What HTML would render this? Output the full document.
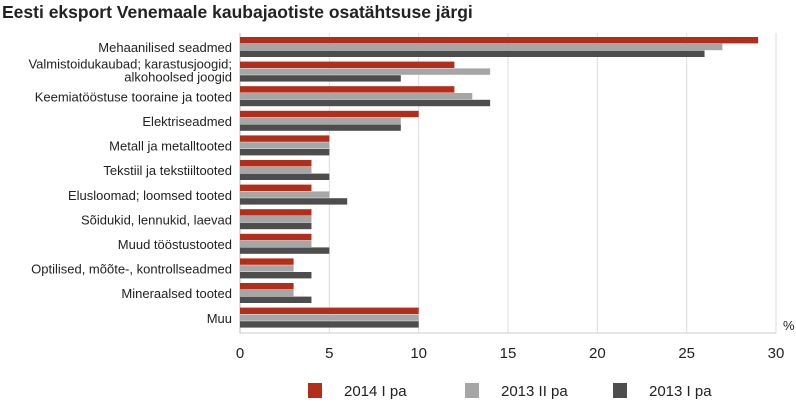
<!DOCTYPE html>
<html><head><meta charset="utf-8"><style>
body{margin:0;background:#fff;width:796px;height:403px;overflow:hidden;font-family:"Liberation Sans",sans-serif}
</style></head><body>
<svg width="796" height="403" xmlns="http://www.w3.org/2000/svg" font-family="Liberation Sans, sans-serif">
<text x="2" y="18" font-size="17.5" font-weight="bold" fill="#222">Eesti eksport Venemaale kaubajaotiste osatähtsuse järgi</text>
<g id="grid"></g><g id="bars"></g><g id="labels"></g><g id="ticks"></g>
<text x="783" y="330" font-size="13" fill="#222">%</text>
<g id="legend"></g>
</svg>
<script>
const categories=[["Mehaanilised seadmed"],["Valmistoidukaubad; karastusjoogid;","alkohoolsed joogid"],["Keemiatööstuse tooraine ja tooted"],["Elektriseadmed"],["Metall ja metalltooted"],["Tekstiil ja tekstiiltooted"],["Elusloomad; loomsed tooted"],["Sõidukid, lennukid, laevad "],["Muud tööstustooted"],["Optilised,  mõõte-, kontrollseadmed"],["Mineraalsed tooted"],["Muu"]];
const s2014=[29,12,12,10,5,4,4,4,4,3,3,10];
const s2013b=[27,14,13,9,5,4,5,4,4,3,3,10];
const s2013a=[26,9,14,9,5,5,6,4,5,4,4,10];
const ticks=[0,5,10,15,20,25,30];
const seriesNames=["2014 I pa","2013 II pa","2013 I pa"];
const colors=["#b22d1a","#a6a6a6","#4d4d4d"];
const NS="http://www.w3.org/2000/svg";
const x0=240,x1=776,topY=37,pitch=24.6,bh=6.8,axisY=333;
const xs=v=>x0+(v-0)/(30-0)*(x1-x0);
function mk(t,a,p){const e=document.createElementNS(NS,t);for(const k in a)e.setAttribute(k,a[k]);p.appendChild(e);return e;}
const grid=document.getElementById('grid');
ticks.forEach(t=>{const l=mk('line',{x1:xs(t),x2:xs(t),y1:33,y2:axisY,stroke:t===0?'#bbb':'#ddd','stroke-width':1},grid);


const tx=mk('text',{x:xs(t),y:358,'font-size':15,'text-anchor':'middle',fill:'#222'},document.getElementById('ticks'));tx.textContent=t;

});
const ax=mk('line',{x1:x0,x2:x1,y1:axisY,y2:axisY,stroke:'#ccc'},grid);


const bars=document.getElementById('bars'),labels=document.getElementById('labels');
const series=[s2014,s2013b,s2013a];
categories.forEach((c,i)=>{const gy=topY+i*pitch;
series.forEach((s,j)=>{const r=mk('rect',{x:x0,y:gy+j*bh,width:xs(s[i])-x0,height:bh-0.4,fill:colors[j]},bars);

});
const cy=gy+bh*1.5;
c.forEach((line,k)=>{const t=mk('text',{x:232,y:cy+5+(c.length>1?(k-0.5)*13-2:0),'font-size':13,'text-anchor':'end',fill:'#222'},labels);t.textContent=line;

});});
const lg=document.getElementById('legend');const lx=[308,465,613];
seriesNames.forEach((n,j)=>{const r=mk('rect',{x:lx[j],y:383,width:14,height:15,fill:colors[j]},lg);


const t=mk('text',{x:lx[j]+36,y:396,'font-size':15,fill:'#222'},lg);t.textContent=n;

});
</script>
</body></html>
